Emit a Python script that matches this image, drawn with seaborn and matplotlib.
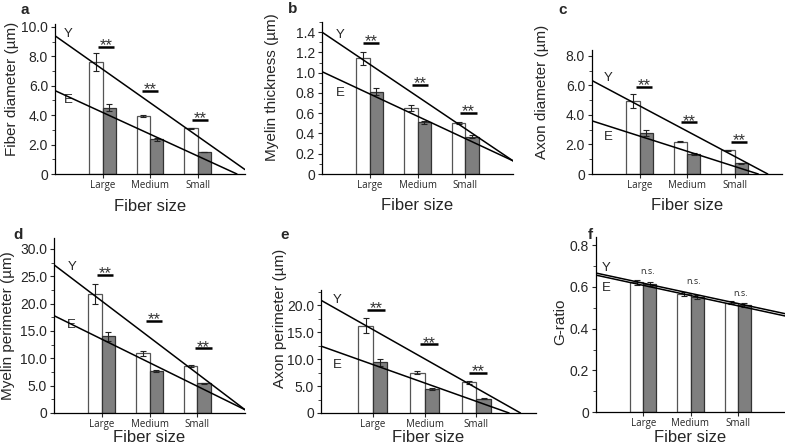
import pandas as pd
import matplotlib
matplotlib.use("Agg")
import matplotlib.pyplot as plt
import seaborn as sns
from matplotlib.ticker import MultipleLocator, FuncFormatter

# categories / groups
sizes = ["Large", "Medium", "Small"]
groups = ["Y", "E"]

# a: fiber diameter
a_young = [7.6, 3.95, 3.1]
a_young_err = [0.6, 0.08, 0.06]
a_elder = [4.5, 2.35, 1.5]
a_elder_err = [0.25, 0.08, 0.03]
a_fit_young = [9.4, 0.3]
a_fit_elder = [5.67, 0.0]
a_fit_end = [3.0, 2.83]
a_sig = [8.66, 5.67, 3.67]

# b: myelin thickness
b_young = [1.14, 0.65, 0.50]
b_young_err = [0.06, 0.03, 0.01]
b_elder = [0.81, 0.51, 0.37]
b_elder_err = [0.035, 0.015, 0.01]
b_fit_young = [1.40, 0.13]
b_fit_elder = [1.01, 0.13]
b_fit_end = [3.0, 3.0]
b_sig = [1.29, 0.88, 0.60]

# c: axon diameter
c_young = [4.95, 2.19, 1.6]
c_young_err = [0.45, 0.05, 0.03]
c_elder = [2.76, 1.36, 0.72]
c_elder_err = [0.2, 0.06, 0.03]
c_fit_young = [6.33, 0.0]
c_fit_elder = [3.6, 0.0]
c_fit_end = [2.7, 2.5]
c_sig = [5.92, 3.5, 2.19]

# d: myelin perimeter
d_young = [21.8, 10.9, 8.6]
d_young_err = [1.8, 0.4, 0.25]
d_elder = [14.0, 7.7, 5.4]
d_elder_err = [0.9, 0.2, 0.15]
d_fit_young = [27.1, 0.6]
d_fit_elder = [17.8, 0.6]
d_fit_end = [3.0, 3.0]
d_sig = [25.3, 16.9, 11.8]

# e: axon perimeter
e_young = [16.2, 7.5, 5.7]
e_young_err = [1.4, 0.3, 0.25]
e_elder = [9.4, 4.5, 2.65]
e_elder_err = [0.7, 0.2, 0.1]
e_fit_young = [20.9, 0.0]
e_fit_elder = [12.4, 0.0]
e_fit_end = [2.85, 2.63]
e_sig = [19.1, 12.7, 7.4]

# f: g-ratio
f_young = [0.622, 0.566, 0.525]
f_young_err = [0.01, 0.01, 0.008]
f_elder = [0.614, 0.554, 0.514]
f_elder_err = [0.01, 0.01, 0.008]
f_fit_young = [0.667, 0.472]
f_fit_elder = [0.657, 0.461]
f_fit_end = [3.0, 3.0]
f_sig = [0.675, 0.627, 0.57]

sns.set_style("ticks")
plt.rcParams["font.family"] = ["Liberation Sans", "DejaVu Sans"]

W, H = 785, 446
fig = plt.figure(figsize=(W / 100, H / 100), dpi=100)


def px_axes(l, t, r, b):
    return fig.add_axes([l / W, 1 - b / H, (r - l) / W, (b - t) / H])


def fmt(v, pos):
    return "0" if abs(v) < 1e-9 else f"{v:.1f}"


def panel(ax, young, young_err, elder, elder_err, fit_y, fit_e, fit_end,
          sig, sig_x, sig_text, ylim, major, ylabel, xmax, lab_x, lab_y,
          ylab_px, letter, letter_px, xlab_y):
    df = pd.DataFrame({
        "size": sizes * 2,
        "group": ["Y"] * 3 + ["E"] * 3,
        "value": young + elder,
    })
    sns.barplot(data=df, x="size", y="value", hue="group", hue_order=groups,
                palette={"Y": "white", "E": "#7f7f7f"}, width=0.56, gap=0,
                errorbar=None, legend=False, ax=ax, linewidth=0.9)
    for cont, err, ec in zip(ax.containers, [young_err, elder_err],
                             ["#555555", "#333333"]):
        xs = [bar.get_x() + bar.get_width() / 2 for bar in cont]
        hs = [bar.get_height() for bar in cont]
        for bar in cont:
            bar.set_edgecolor(ec)
        ax.errorbar(xs, hs, yerr=err, fmt="none", ecolor="#222222",
                    elinewidth=0.8, capsize=2, capthick=0.8, zorder=3)

    # fitted lines for young (Y) and elderly (E)
    ax.plot([-1, fit_end[0]], fit_y, color="black", lw=1.1, zorder=4)
    ax.plot([-1, fit_end[1]], fit_e, color="black", lw=1.1, zorder=4)
    ax.text(lab_x, lab_y[0], "Y", fontsize=9.5, ha="center", va="center")
    ax.text(lab_x, lab_y[1], "E", fontsize=9.5, ha="center", va="center")

    for x, y in zip(sig_x, sig):
        if sig_text == "**":
            ax.plot([x - 0.17, x + 0.17], [y, y], color="black", lw=1.8,
                    solid_capstyle="butt", zorder=4)
            ax.annotate("**", (x, y), xytext=(0, -2.4), textcoords="offset points",
                        ha="center", va="baseline", fontsize=12, color="#333333")
        else:
            ax.text(x, y, sig_text, ha="center", va="center", fontsize=6.5,
                    family=["Open Sans", "DejaVu Sans"])

    ax.set_xlim(-1, xmax)
    ax.set_ylim(0, ylim)
    ax.yaxis.set_major_locator(MultipleLocator(major))
    ax.yaxis.set_minor_locator(MultipleLocator(major / 2))
    ax.yaxis.set_major_formatter(FuncFormatter(fmt))
    ax.tick_params(axis="y", labelsize=10, length=3, width=0.8, pad=2)
    ax.tick_params(axis="y", which="minor", length=2, width=0.6)
    ax.tick_params(axis="x", length=3, width=0.8, pad=1.5)
    for lbl in ax.get_xticklabels():
        lbl.set_fontfamily(["Open Sans", "DejaVu Sans"])
        lbl.set_fontsize(7)
    for s in ["left", "bottom"]:
        ax.spines[s].set_linewidth(0.9)
        ax.spines[s].set_color("black")
    sns.despine(ax=ax)

    ax.set_ylabel(ylabel, fontsize=11)
    ax.set_xlabel("Fiber size", fontsize=12)
    bb = ax.get_position()
    ax0 = bb.x0 * W
    axw = bb.width * W
    ay1 = (1 - bb.y1) * H
    axh = bb.height * H
    ax.yaxis.set_label_coords((ylab_px[0] - ax0) / axw, 1 - (ylab_px[1] - ay1) / axh)
    ax.yaxis.label.set_verticalalignment("center")
    ax.xaxis.set_label_coords(0.5, 1 - (xlab_y - ay1) / axh)
    ax.xaxis.label.set_verticalalignment("center")
    fig.text(letter_px[0] / W, 1 - letter_px[1] / H, letter, fontsize=11,
             fontweight="bold", ha="center", va="center")


ax_a = px_axes(55, 24, 245, 174)
panel(ax_a, a_young, a_young_err, a_elder, a_elder_err, a_fit_young, a_fit_elder,
      a_fit_end, a_sig, [0.07, 1.0, 2.05], "**", 10.2, 2.0, "Fiber diameter (µm)",
      3.0, -0.72, [9.5, 5.0], (12, 89), "a", (25, 10), 206)

ax_b = px_axes(322, 22, 513, 174)
panel(ax_b, b_young, b_young_err, b_elder, b_elder_err, b_fit_young, b_fit_elder,
      b_fit_end, b_sig, [0.03, 1.05, 2.07], "**", 1.5, 0.2, "Myelin thickness (µm)",
      3.0, -0.62, [1.37, 0.80], (272, 87), "b", (293, 9), 206)

ax_c = px_axes(592, 50, 782, 174)
panel(ax_c, c_young, c_young_err, c_elder, c_elder_err, c_fit_young, c_fit_elder,
      c_fit_end, c_sig, [0.1, 1.05, 2.1], "**", 8.4, 2.0, "Axon diameter (µm)",
      3.0, -0.65, [6.5, 2.5], (542, 92), "c", (563, 10), 206)

ax_d = px_axes(54, 238, 245, 413)
panel(ax_d, d_young, d_young_err, d_elder, d_elder_err, d_fit_young, d_fit_elder,
      d_fit_end, d_sig, [0.07, 1.09, 2.13], "**", 32, 5.0, "Myelin perimeter (µm)",
      3.0, -0.63, [26.7, 16.1], (8, 326), "d", (18, 235), 437)

ax_e = px_axes(321, 290, 536, 413)
panel(ax_e, e_young, e_young_err, e_elder, e_elder_err, e_fit_young, e_fit_elder,
      e_fit_end, e_sig, [0.06, 1.08, 2.03], "**", 22.8, 5.0, "Axon perimeter (µm)",
      3.15, -0.68, [21.0, 8.9], (280, 318), "e", (285, 235), 437)

ax_f = px_axes(596, 237, 785, 412)
panel(ax_f, f_young, f_young_err, f_elder, f_elder_err, f_fit_young, f_fit_elder,
      f_fit_end, f_sig, [0.1, 1.07, 2.06], "n.s.", 0.84, 0.2, "G-ratio",
      3.0, -0.78, [0.69, 0.594], (560, 322), "f", (590, 235), 437)

fig.savefig("out.png", dpi=100)
